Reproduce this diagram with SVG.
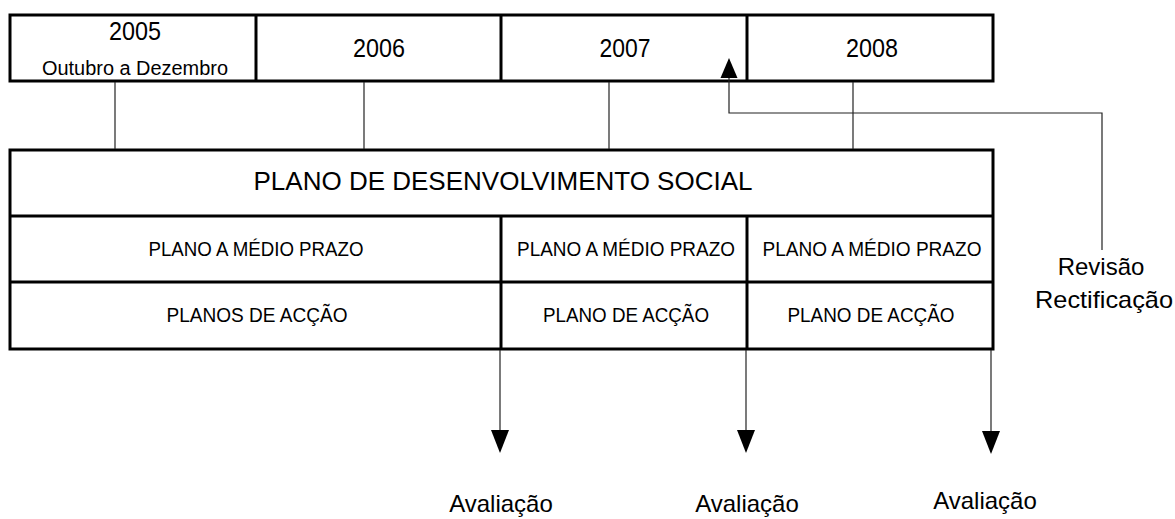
<svg xmlns="http://www.w3.org/2000/svg" width="1175" height="519" viewBox="0 0 1175 519">
<style>
text{font-family:"Liberation Sans",Arial,sans-serif;fill:#000;text-anchor:middle}
.thick{fill:none;stroke:#000;stroke-width:3}
.thin{fill:none;stroke:#222;stroke-width:1.2}
.yr{font-size:25px}
.cell{font-size:20px}
.lbl{font-size:24px}
</style>
<g id="timeline">
<rect class="thick" x="10" y="15" width="983" height="66"/>
<line class="thick" x1="256" y1="15" x2="256" y2="81"/>
<line class="thick" x1="501" y1="15" x2="501" y2="81"/>
<line class="thick" x1="747" y1="15" x2="747" y2="81"/>
</g>
<g id="y2005"><text class="yr" x="135" y="40" textLength="52" lengthAdjust="spacingAndGlyphs">2005</text><text x="135" y="75" style="font-size:20px" textLength="186" lengthAdjust="spacingAndGlyphs">Outubro a Dezembro</text></g>
<g id="y2006"><text class="yr" x="379" y="57" textLength="52" lengthAdjust="spacingAndGlyphs">2006</text></g>
<g id="y2007"><text class="yr" x="625" y="57" textLength="51" lengthAdjust="spacingAndGlyphs">2007</text></g>
<g id="y2008"><text class="yr" x="872" y="57" textLength="52" lengthAdjust="spacingAndGlyphs">2008</text></g>
<g id="plano">
<rect class="thick" x="10" y="150" width="983" height="199"/>
<text x="503" y="190" style="font-size:25px" textLength="499" lengthAdjust="spacingAndGlyphs">PLANO DE DESENVOLVIMENTO SOCIAL</text>
</g>
<g id="rows">
<line class="thick" x1="10" y1="216" x2="993" y2="216"/>
<line class="thick" x1="10" y1="282" x2="993" y2="282"/>
<line class="thick" x1="501" y1="216" x2="501" y2="349"/>
<line class="thick" x1="747" y1="216" x2="747" y2="349"/>
</g>
<g id="mp1"><text class="cell" x="256" y="256" textLength="215" lengthAdjust="spacingAndGlyphs">PLANO A MÉDIO PRAZO</text></g>
<g id="mp2"><text class="cell" x="626" y="256" textLength="218" lengthAdjust="spacingAndGlyphs">PLANO A MÉDIO PRAZO</text></g>
<g id="mp3"><text class="cell" x="872" y="256" textLength="219" lengthAdjust="spacingAndGlyphs">PLANO A MÉDIO PRAZO</text></g>
<g id="pa1"><text class="cell" x="257" y="322" textLength="181" lengthAdjust="spacingAndGlyphs">PLANOS DE ACÇÃO</text></g>
<g id="pa2"><text class="cell" x="626" y="322" textLength="166" lengthAdjust="spacingAndGlyphs">PLANO DE ACÇÃO</text></g>
<g id="pa3"><text class="cell" x="871" y="322" textLength="167" lengthAdjust="spacingAndGlyphs">PLANO DE ACÇÃO</text></g>
<g id="revisao"><text class="lbl" x="1101" y="275">Revisão</text><text class="lbl" x="1104" y="308" textLength="138" lengthAdjust="spacingAndGlyphs">Rectificação</text></g>
<g id="aval1"><text class="lbl" x="501" y="512">Avaliação</text></g>
<g id="aval2"><text class="lbl" x="747" y="512">Avaliação</text></g>
<g id="aval3"><text class="lbl" x="985" y="509">Avaliação</text></g>
<g id="connectors">
<line class="thin" x1="115" y1="82" x2="115" y2="149"/>
<line class="thin" x1="364" y1="82" x2="364" y2="149"/>
<line class="thin" x1="609" y1="82" x2="609" y2="149"/>
<line class="thin" x1="853" y1="82" x2="853" y2="149"/>
<polyline class="thin" points="1102,250 1102,113 729,113 729,78"/>
<path d="M720.5 78 L737.5 78 L729 58 Z" fill="#000"/>
<line class="thin" x1="500" y1="350" x2="500" y2="430"/>
<path d="M491 430 L509 430 L500 453 Z" fill="#000"/>
<line class="thin" x1="746" y1="350" x2="746" y2="430"/>
<path d="M737 430 L755 430 L746 453 Z" fill="#000"/>
<line class="thin" x1="991" y1="350" x2="991" y2="431"/>
<path d="M982 431 L1000 431 L991 454 Z" fill="#000"/>
</g>
</svg>
